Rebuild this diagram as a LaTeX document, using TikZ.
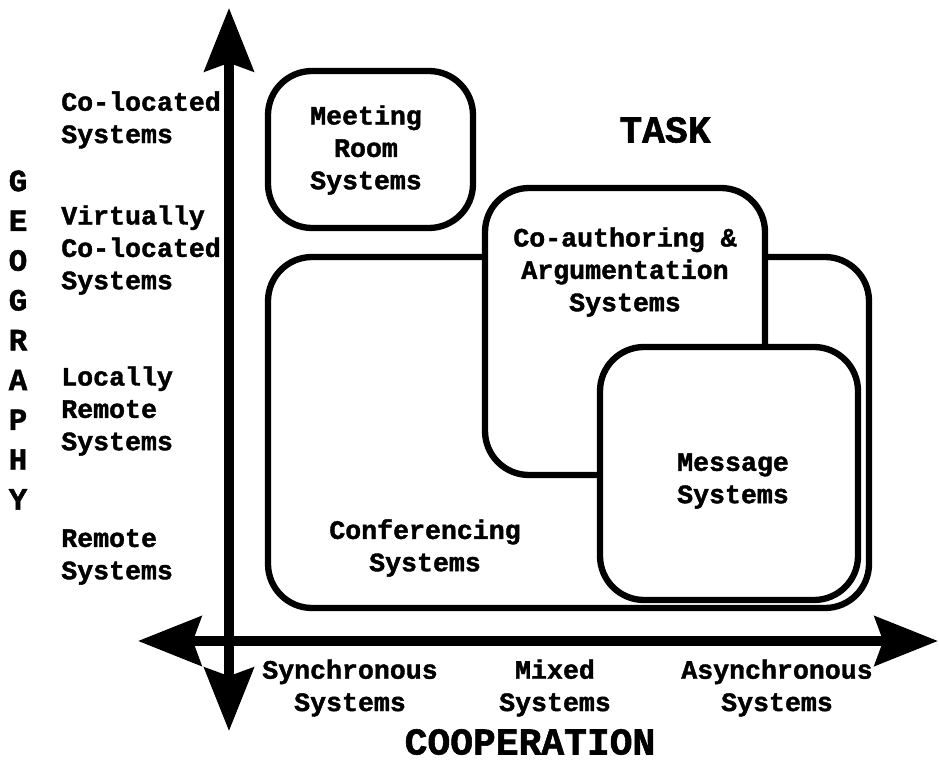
\documentclass[tikz,border=0pt]{standalone}
\usepackage{fontspec}
\setmonofont[BoldFeatures={FakeBold=1.5}]{Liberation Mono}
\usetikzlibrary{arrows.meta, positioning, fit}

\tikzset{
  axis/.style={line width=6.5pt,
    {Stealth[length=45pt, width=35pt, inset=6pt]}-{Stealth[length=45pt, width=35pt, inset=6pt]}},
  sysbox/.style={draw, line width=4.5pt, rounded corners=1.1cm, inner sep=0pt, fill=white},
  lbl/.style={font=\ttfamily\bfseries\fontsize{18.9}{23}\selectfont, inner sep=0pt},
  biglbl/.style={font=\ttfamily\bfseries\fontsize{27}{30}\selectfont, inner sep=0pt},
  geolbl/.style={font=\ttfamily\bfseries\fontsize{22}{28.3}\selectfont, inner sep=0pt},
}

\begin{document}
\begin{tikzpicture}[x=0.025cm, y=-0.025cm]
  \useasboundingbox (0,0) rectangle (939,761);

  % axes
  \coordinate (ytop) at (229,8);
  \coordinate (ybot) at (229,731);
  \coordinate (xleft) at (138,641);
  \coordinate (xright) at (938,641);
  \draw[axis] (ybot) -- (ytop);
  \draw[axis] (xleft) -- (xright);

  % system boxes
  \node[sysbox, fit={(268,71) (473,228)}] (meeting) {};
  \node[sysbox, fit={(268,257) (869,608)}] (conf) {};
  \node[sysbox, fit={(485,188) (765,475)}] (coauth) {};
  \node[sysbox, fit={(600,347) (858,600)}] (message) {};

  \node[lbl, align=center] (meettxt) at (366,150) {Meeting\\Room\\Systems};
  \node[lbl, align=center] (coauthtxt) at (625,272) {Co-authoring \&\\Argumentation\\Systems};
  \node[lbl, align=center] (msgtxt) at (733,481) {Message\\Systems};
  \node[lbl, align=center] (conftxt) at (425,548) {Conferencing\\Systems};
  \node[biglbl] (task) at (665,130) {TASK};

  % geography
  \node[geolbl, align=center] (geo) at (18,340) {G\\E\\O\\G\\R\\A\\P\\H\\Y};
  \node[lbl, align=left, anchor=west] (coloc) at (61,120) {Co-located\\Systems};
  \node[lbl, align=left, anchor=west] (virtual) at (61,250) {Virtually\\Co-located\\Systems};
  \node[lbl, align=left, anchor=west] (local) at (61,411) {Locally\\Remote\\Systems};
  \node[lbl, align=left, anchor=west] (remote) at (61,557) {Remote\\Systems};

  % cooperation
  \node[lbl, align=center] (sync) at (350,688) {Synchronous\\Systems};
  \node[lbl, align=center] (mixed) at (555,688) {Mixed\\Systems};
  \node[lbl, align=center] (async) at (777,688) {Asynchronous\\Systems};
  \node[biglbl] (coop) at (530,742) {COOPERATION};
\end{tikzpicture}
\end{document}
